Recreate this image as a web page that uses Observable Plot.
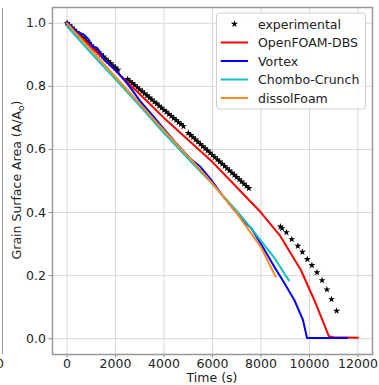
<!DOCTYPE html>
<html><head><meta charset="utf-8">
<script src="https://cdn.jsdelivr.net/npm/d3@7"></script>
<script src="https://cdn.jsdelivr.net/npm/@observablehq/plot@0.6"></script>
<style>
body{margin:0;background:#fff;}
#wrap{position:relative;width:379px;height:385px;overflow:hidden;font-family:"DejaVu Sans";}
#edge{position:absolute;left:2px;top:8px;width:1px;height:346px;background:#999;}
#cut0{position:absolute;left:-4px;top:356px;font-size:12.5px;color:#222;}
</style>
</head><body><div id="wrap"><div id="edge"></div><div id="cut0">0</div></div>
<script>
// experimental data (time s, area ratio)
const expTime = [
  0,100,200,300,400,500,600,700,800,900,1000,1100,1200,1300,1400,1500,1600,1700,1800,1900,2000,2100,
  2500,2600,2700,2800,2900,3000,3100,3200,3300,3400,3500,3600,3700,3800,3900,4000,4100,4200,4300,4400,4500,4600,4700,4800,
  5000,5100,5200,5300,5400,5500,5600,5700,5800,5900,6000,6100,6200,6300,6400,6500,6600,6700,6800,6900,7000,7100,7200,7300,7400,7500,
  8800,8870,9050,9270,9520,9710,9910,10100,10310,10520,10720,10910,11120
];
const expArea = [
  1.000,0.993,0.986,0.979,0.972,0.965,0.958,0.951,0.944,0.937,0.930,0.922,0.915,0.908,0.901,0.894,0.887,0.880,0.873,0.866,0.859,0.852,
  0.823,0.816,0.810,0.803,0.797,0.790,0.784,0.777,0.771,0.764,0.758,0.751,0.745,0.738,0.732,0.725,0.719,0.712,0.706,0.699,0.693,0.686,0.680,0.673,
  0.652,0.645,0.638,0.631,0.624,0.617,0.610,0.603,0.596,0.589,0.582,0.575,0.568,0.561,0.554,0.547,0.540,0.533,0.526,0.519,0.512,0.505,0.498,0.491,0.484,0.477,
  0.355,0.350,0.337,0.315,0.294,0.275,0.252,0.233,0.210,0.185,0.156,0.125,0.088
];
// OpenFOAM-DBS
const dbsTime = [0,1000,2000,3000,4000,5000,6000,7000,8000,8800,9650,10200,10800,11000,12000];
const dbsArea = [1.0,0.925,0.850,0.775,0.700,0.630,0.560,0.480,0.400,0.325,0.217,0.122,0.008,0.005,0.003];
// Vortex
const vortexTime = [0,350,700,900,1030,1240,1380,1520,1860,2070,2350,2620,3000,3500,4000,4500,5100,5500,5930,6400,6900,7380,7600,8000,8550,8950,9380,9730,9900,11560];
const vortexArea = [1.005,0.975,0.964,0.948,0.927,0.922,0.906,0.885,0.862,0.845,0.821,0.795,0.755,0.710,0.664,0.620,0.570,0.545,0.505,0.455,0.408,0.366,0.350,0.300,0.228,0.178,0.122,0.060,0.002,0.002];
// Chombo-Crunch
const chomboTime = [0,1000,2000,3000,4000,5000,6000,7000,7600,8000,8500,9150];
const chomboArea = [0.990,0.905,0.822,0.738,0.652,0.570,0.490,0.405,0.350,0.310,0.262,0.185];
// dissolFoam
const dissolTime = [0,1000,2000,3000,4000,5000,6000,7000,8000,8600];
const dissolArea = [1.0,0.915,0.830,0.745,0.660,0.578,0.492,0.398,0.290,0.197];

const names = ["OpenFOAM-DBS","Vortex","Chombo-Crunch","dissolFoam"];
const colors = ["#ff0000","#0000ff","#17bfbf","#ff8c1a"];
const xTicks = [0,2000,4000,6000,8000,10000,12000];
const yTicks = [0,0.2,0.4,0.6,0.8,1.0];

const seriesList = [
  {name:names[0], t:dbsTime, v:dbsArea},
  {name:names[1], t:vortexTime, v:vortexArea},
  {name:names[2], t:chomboTime, v:chomboArea},
  {name:names[3], t:dissolTime, v:dissolArea}
];
const lineData = seriesList.flatMap(s => s.t.map((t,i)=>({series:s.name, t, v:s.v[i]})));
const expData = expTime.map((t,i)=>({t, v:expArea[i]}));

const plot = Plot.plot({
  width:379, height:385, marginLeft:52, marginRight:7, marginTop:7, marginBottom:31,
  style:{fontFamily:"DejaVu Sans", fontSize:"12.5px", background:"transparent", color:"#222"},
  x:{domain:[-600,12600]},
  y:{domain:[-0.05,1.05]},
  color:{domain:names, range:colors},
  marks:[
    Plot.gridX(xTicks, {stroke:"#d9d9d9", strokeOpacity:1, strokeWidth:1}),
    Plot.gridY(yTicks, {stroke:"#d9d9d9", strokeOpacity:1, strokeWidth:1}),
    Plot.axisX(xTicks, {tickSize:3.5, tickPadding:1, stroke:"#888", fill:"#222", fontSize:12.5, label:null, tickFormat:d=>String(d)}),
    Plot.axisY(yTicks, {tickSize:3.5, tickPadding:3, stroke:"#888", fill:"#222", fontSize:12.5, label:null, tickFormat:d=>d.toFixed(1)}),
    Plot.dot(expData, {x:"t", y:"v", symbol:"star", r:2.2, fill:"black", stroke:"none"}),
    Plot.line(lineData, {x:"t", y:"v", z:"series", stroke:"series", strokeWidth:2}),
    Plot.frame({stroke:"#999", strokeWidth:1.5})
  ]
});
plot.style.position = "absolute";
plot.style.left = "0px";
plot.style.top = "0px";
document.getElementById("wrap").appendChild(plot);

const svg = d3.select(plot);
// axis labels
svg.append("text").attr("x",212).attr("y",382).attr("text-anchor","middle")
  .attr("font-size",12.5).attr("fill","#222").text("Time (s)");
const yl = svg.append("text").attr("transform","translate(21,180) rotate(-90)")
  .attr("text-anchor","middle").attr("font-size",12.5).attr("fill","#222");
yl.append("tspan").text("Grain Surface Area (A/A");
yl.append("tspan").attr("font-size",9).attr("dy",2.5).text("o");
yl.append("tspan").attr("dy",-2.5).text(")");

// legend
const lg = svg.append("g").attr("text-anchor","start");
lg.append("rect").attr("x",216.5).attr("y",13).attr("width",149).attr("height",96).attr("rx",3)
  .attr("fill","white").attr("fill-opacity",0.85).attr("stroke","#d0d0d0").attr("stroke-width",1);
const legendItems = ["experimental"].concat(names);
const rowY = [24,42.5,61,79.5,98];
legendItems.forEach((name,i)=>{
  const y = rowY[i];
  if (i===0) {
    lg.append("path").attr("transform",`translate(234.4,${y})`)
      .attr("d", d3.symbol(d3.symbolStar, 2.2*2.2*Math.PI)()).attr("fill","black");
  } else {
    lg.append("line").attr("x1",220.7).attr("x2",248).attr("y1",y).attr("y2",y)
      .attr("stroke",colors[i-1]).attr("stroke-width",2);
  }
  lg.append("text").attr("x",258).attr("y",y).attr("dy","0.36em").attr("font-size",12.5)
    .attr("text-anchor","start").attr("fill","#222").text(name);
});
</script>
</body></html>
